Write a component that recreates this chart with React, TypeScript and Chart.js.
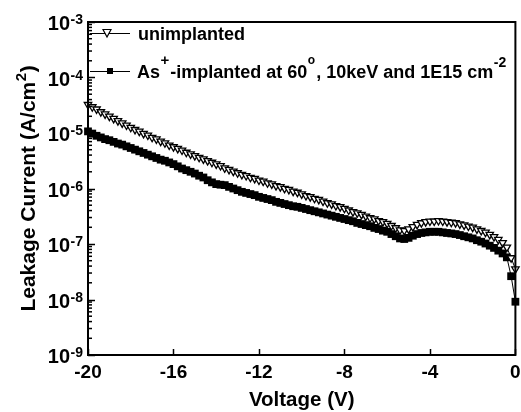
import React, { useEffect, useRef } from "react";
import { Chart, registerables } from "chart.js";

Chart.register(...registerables);

const voltages = [
  -20, -19.8, -19.6, -19.4, -19.2, -19, -18.8, -18.6, -18.4, -18.2,
  -18, -17.8, -17.6, -17.4, -17.2, -17, -16.8, -16.6, -16.4, -16.2,
  -16, -15.8, -15.6, -15.4, -15.2, -15, -14.8, -14.6, -14.4, -14.2,
  -14, -13.8, -13.6, -13.4, -13.2, -13, -12.8, -12.6, -12.4, -12.2,
  -12, -11.8, -11.6, -11.4, -11.2, -11, -10.8, -10.6, -10.4, -10.2,
  -10, -9.8, -9.6, -9.4, -9.2, -9, -8.8, -8.6, -8.4, -8.2,
  -8, -7.8, -7.6, -7.4, -7.2, -7, -6.8, -6.6, -6.4, -6.2,
  -6, -5.8, -5.6, -5.4, -5.2, -5, -4.8, -4.6, -4.4, -4.2,
  -4, -3.8, -3.6, -3.4, -3.2, -3, -2.8, -2.6, -2.4, -2.2,
  -2, -1.8, -1.6, -1.4, -1.2, -1, -0.8, -0.6, -0.4, -0.2,
  0,
];

const unimplanted = [
  3.24e-5, 2.95e-5, 2.69e-5, 2.4e-5, 2.19e-5, 2.0e-5, 1.82e-5, 1.66e-5, 1.51e-5, 1.38e-5,
  1.26e-5, 1.15e-5, 1.07e-5, 9.77e-6, 9.12e-6, 8.32e-6, 7.76e-6, 7.08e-6, 6.61e-6, 6.03e-6,
  5.62e-6, 5.25e-6, 4.9e-6, 4.47e-6, 4.17e-6, 3.89e-6, 3.63e-6, 3.39e-6, 3.16e-6, 2.95e-6,
  2.75e-6, 2.57e-6, 2.34e-6, 2.19e-6, 2.04e-6, 1.91e-6, 1.78e-6, 1.7e-6, 1.58e-6, 1.51e-6,
  1.41e-6, 1.35e-6, 1.26e-6, 1.2e-6, 1.12e-6, 1.07e-6, 1.0e-6, 9.55e-7, 8.91e-7, 8.51e-7,
  7.94e-7, 7.41e-7, 7.08e-7, 6.61e-7, 6.31e-7, 5.89e-7, 5.5e-7, 5.25e-7, 4.9e-7, 4.68e-7,
  4.37e-7, 4.07e-7, 3.8e-7, 3.63e-7, 3.39e-7, 3.16e-7, 2.95e-7, 2.82e-7, 2.63e-7, 2.51e-7,
  2.34e-7, 2.14e-7, 1.95e-7, 1.78e-7, 1.74e-7, 1.86e-7, 2.04e-7, 2.24e-7, 2.4e-7, 2.51e-7,
  2.57e-7, 2.57e-7, 2.63e-7, 2.57e-7, 2.51e-7, 2.45e-7, 2.4e-7, 2.29e-7, 2.19e-7, 2.09e-7,
  2.0e-7, 1.86e-7, 1.74e-7, 1.62e-7, 1.48e-7, 1.35e-7, 1.2e-7, 1.05e-7, 8.71e-8, 5.62e-8,
  3.55e-8,
];

const implanted = [
  1.07e-5, 9.77e-6, 8.91e-6, 8.32e-6, 7.76e-6, 7.41e-6, 6.92e-6, 6.46e-6, 6.17e-6, 5.75e-6,
  5.37e-6, 5.01e-6, 4.68e-6, 4.37e-6, 4.07e-6, 3.8e-6, 3.55e-6, 3.31e-6, 3.16e-6, 2.95e-6,
  2.75e-6, 2.51e-6, 2.29e-6, 2.14e-6, 2.0e-6, 1.86e-6, 1.7e-6, 1.58e-6, 1.41e-6, 1.29e-6,
  1.2e-6, 1.17e-6, 1.15e-6, 1.07e-6, 1.0e-6, 9.33e-7, 8.71e-7, 8.32e-7, 7.94e-7, 7.59e-7,
  7.08e-7, 6.76e-7, 6.46e-7, 6.17e-7, 5.75e-7, 5.5e-7, 5.25e-7, 5.01e-7, 4.79e-7, 4.68e-7,
  4.47e-7, 4.27e-7, 4.07e-7, 3.89e-7, 3.72e-7, 3.55e-7, 3.39e-7, 3.24e-7, 3.09e-7, 2.95e-7,
  2.82e-7, 2.69e-7, 2.57e-7, 2.4e-7, 2.29e-7, 2.19e-7, 2.09e-7, 1.95e-7, 1.86e-7, 1.74e-7,
  1.66e-7, 1.51e-7, 1.38e-7, 1.26e-7, 1.23e-7, 1.29e-7, 1.41e-7, 1.51e-7, 1.58e-7, 1.62e-7,
  1.66e-7, 1.66e-7, 1.66e-7, 1.62e-7, 1.58e-7, 1.55e-7, 1.51e-7, 1.45e-7, 1.38e-7, 1.32e-7,
  1.26e-7, 1.17e-7, 1.1e-7, 1.02e-7, 9.33e-8, 8.51e-8, 7.59e-8, 6.76e-8, 5.75e-8, 2.63e-8,
  9.12e-9,
];

const xTickValues = [-20, -16, -12, -8, -4, 0];
const yTickExponents = [-9, -8, -7, -6, -5, -4, -3];
const xTitle = "Voltage (V)";
const yTitleParts = ["Leakage Current (A/cm", "2", ")"];
const legend1 = "unimplanted";
const legend2Parts = [
  { t: "As", sup: false },
  { t: "+", sup: true },
  { t: "-implanted at 60", sup: false },
  { t: "o", sup: true },
  { t: ", 10keV and 1E15 cm", sup: false },
  { t: "-2", sup: true },
];

const FONT = "'Liberation Sans', Arial, Helvetica, sans-serif";

const decorPlugin = {
  id: "decor",
  afterDatasetsDraw(chart: any) {
    const ctx: CanvasRenderingContext2D = chart.ctx;
    const { left, right, top, bottom } = chart.chartArea;
    const xs = chart.scales.x;
    const ys = chart.scales.y;
    ctx.save();
    ctx.strokeStyle = "#000";
    ctx.fillStyle = "#000";

    // frame
    ctx.lineWidth = 2;
    ctx.strokeRect(left, top, right - left, bottom - top);

    // y ticks (inside)
    ctx.lineWidth = 1.5;
    const maxE = yTickExponents[yTickExponents.length - 1];
    for (const e of yTickExponents) {
      const y = Math.round(ys.getPixelForValue(Math.pow(10, e))) + 0.5;
      ctx.beginPath();
      ctx.moveTo(left, y);
      ctx.lineTo(left + 7, y);
      ctx.stroke();
      if (e < maxE) {
        for (let m = 2; m <= 9; m++) {
          const yy = ys.getPixelForValue(m * Math.pow(10, e));
          ctx.beginPath();
          ctx.moveTo(left, yy);
          ctx.lineTo(left + 4, yy);
          ctx.stroke();
        }
      }
    }
    // x ticks (inside)
    for (const v of xTickValues) {
      const x = Math.round(xs.getPixelForValue(v)) + 0.5;
      ctx.beginPath();
      ctx.moveTo(x, bottom);
      ctx.lineTo(x, bottom - 6);
      ctx.stroke();
    }

    // y tick labels 10^e
    ctx.textBaseline = "alphabetic";
    for (const e of yTickExponents) {
      const y = ys.getPixelForValue(Math.pow(10, e));
      const sup = String(e);
      ctx.font = `bold 14px ${FONT}`;
      const sw = ctx.measureText(sup).width;
      const supX = left - 5 - sw;
      ctx.textAlign = "left";
      ctx.fillText(sup, supX, y + 2);
      ctx.font = `bold 20px ${FONT}`;
      ctx.textAlign = "right";
      ctx.fillText("10", supX - 0.5, y + 8);
    }

    // x tick labels
    ctx.font = `bold 19px ${FONT}`;
    ctx.textAlign = "center";
    ctx.textBaseline = "middle";
    for (const v of xTickValues) {
      const x = xs.getPixelForValue(v);
      ctx.fillText(String(v), x, bottom + 18);
    }

    // x title
    ctx.font = `bold 20.5px ${FONT}`;
    ctx.fillText(xTitle, (left + right) / 2, 400);

    // y title
    ctx.save();
    ctx.translate(35, (top + bottom) / 2);
    ctx.rotate(-Math.PI / 2);
    ctx.textAlign = "left";
    ctx.textBaseline = "alphabetic";
    ctx.font = `bold 21px ${FONT}`;
    const w1 = ctx.measureText(yTitleParts[0]).width;
    const w3 = ctx.measureText(yTitleParts[2]).width;
    ctx.font = `bold 15px ${FONT}`;
    const w2 = ctx.measureText(yTitleParts[1]).width;
    const x0 = -(w1 + w2 + w3 + 1) / 2;
    ctx.font = `bold 21px ${FONT}`;
    ctx.fillText(yTitleParts[0], x0, 0);
    ctx.font = `bold 15px ${FONT}`;
    ctx.fillText(yTitleParts[1], x0 + w1 + 0.5, -9);
    ctx.font = `bold 21px ${FONT}`;
    ctx.fillText(yTitleParts[2], x0 + w1 + w2 + 1, 0);
    ctx.restore();

    // legend
    const ly1 = 33;
    const ly2 = 71;
    ctx.lineWidth = 1;
    ctx.beginPath();
    ctx.moveTo(90, ly1 + 0.5);
    ctx.lineTo(130, ly1 + 0.5);
    ctx.moveTo(90, ly2 + 0.5);
    ctx.lineTo(130, ly2 + 0.5);
    ctx.stroke();
    ctx.fillStyle = "#fff";
    ctx.beginPath();
    ctx.moveTo(103, ly1 - 3.5);
    ctx.lineTo(111, ly1 - 3.5);
    ctx.lineTo(107, ly1 + 4);
    ctx.closePath();
    ctx.fill();
    ctx.lineWidth = 1.2;
    ctx.stroke();
    ctx.fillStyle = "#000";
    ctx.fillRect(107, ly2 - 3, 6, 6);

    ctx.textAlign = "left";
    ctx.textBaseline = "alphabetic";
    ctx.font = `bold 18px ${FONT}`;
    ctx.fillText(legend1, 138, ly1 + 6.5);

    let tx = 137;
    for (const p of legend2Parts) {
      if (p.sup) {
        const size = p.t === "o" ? 12 : p.t === "+" ? 15 : 14;
        const dy = p.t === "-2" ? -11 : p.t === "+" ? -13 : -14;
        ctx.font = `bold ${size}px ${FONT}`;
        ctx.fillText(p.t, tx + 0.5, ly2 + 6.5 + dy);
        tx += ctx.measureText(p.t).width + 1.5;
      } else {
        ctx.font = `bold 18px ${FONT}`;
        ctx.fillText(p.t, tx, ly2 + 6.5);
        tx += ctx.measureText(p.t).width;
      }
    }

    ctx.restore();
  },
};

export default function App() {
  const canvasRef = useRef<HTMLCanvasElement | null>(null);

  useEffect(() => {
    document.body.style.margin = "0";
    const canvas = canvasRef.current;
    if (!canvas) return;
    const chart = new Chart(canvas, {
      type: "scatter",
      data: {
        datasets: [
          {
            label: "unimplanted",
            data: voltages.map((v, i) => ({ x: v, y: unimplanted[i] })),
            showLine: true,
            borderColor: "#000",
            borderWidth: 1,
            pointStyle: "triangle",
            rotation: 180,
            pointRadius: 4.3,
            pointBackgroundColor: "#fff",
            pointBorderColor: "#000",
            pointBorderWidth: 1.3,
            clip: false as any,
          },
          {
            label: "As+-implanted at 60°, 10keV and 1E15 cm-2",
            data: voltages.map((v, i) => ({ x: v, y: implanted[i] })),
            showLine: true,
            borderColor: "#000",
            borderWidth: 1,
            pointStyle: "rect",
            pointRadius: 5.5,
            pointBackgroundColor: "#000",
            pointBorderColor: "#000",
            pointBorderWidth: 0,
            clip: false as any,
          },
        ],
      },
      options: {
        animation: false,
        responsive: false,
        maintainAspectRatio: false,
        layout: { padding: { left: 88, right: 4, top: 22, bottom: 57 } },
        scales: {
          x: { type: "linear", min: -20, max: 0, display: false },
          y: { type: "logarithmic", min: 1e-9, max: 1e-3, display: false },
        },
        plugins: {
          legend: { display: false },
          tooltip: { enabled: false },
        },
      },
      plugins: [decorPlugin],
    });
    return () => chart.destroy();
  }, []);

  return (
    <div style={{ position: "absolute", left: 0, top: 0, width: 521, height: 412, background: "#fff" }}>
      <canvas ref={canvasRef} width={521} height={412} style={{ display: "block" }} />
    </div>
  );
}
